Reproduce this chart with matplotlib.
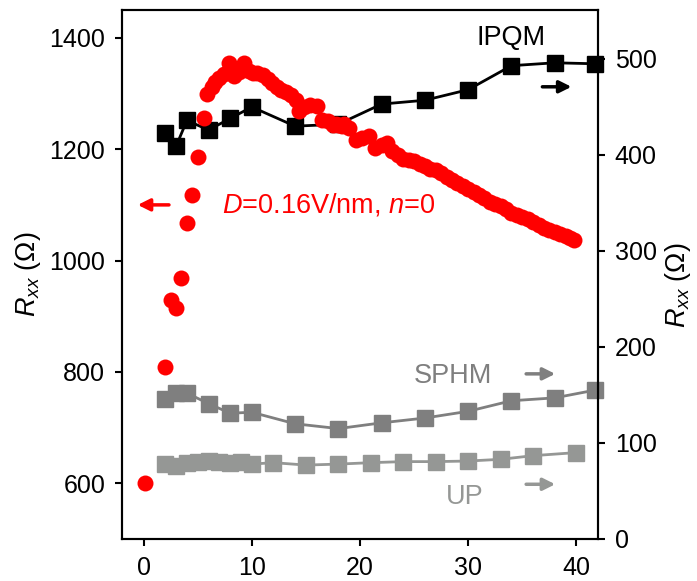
import matplotlib
matplotlib.use("Agg")
import matplotlib.pyplot as plt

plt.rcParams['font.family'] = ['Liberation Sans', 'DejaVu Sans']
plt.rcParams['mathtext.fontset'] = 'custom'
plt.rcParams['mathtext.rm'] = 'Liberation Sans'
plt.rcParams['mathtext.it'] = 'Liberation Sans:italic'

FS_TICK = 18
FS_TXT = 19.5

# red dots, left axis (Rxx at D=0.16V/nm, n=0)
red_x = [0.1, 2.0, 2.5, 3.0, 3.5, 4.0, 4.5, 5.0, 5.56, 5.9, 6.3, 6.6, 7.0, 7.4,
         7.9, 8.4, 8.8, 9.3, 9.7, 10.1, 10.5, 11.0, 11.5, 11.9, 12.3, 12.7, 13.2,
         13.6, 14.1, 14.4, 14.8, 15.4, 16.0, 16.5, 17.0, 17.5, 17.8, 18.0, 18.3,
         18.5, 19.0, 19.6, 20.2, 20.8, 21.4, 22.0, 22.5, 23.0, 23.5, 24.0, 24.5,
         25.0, 25.5, 26.0, 26.5, 27.0, 27.5, 28.0, 28.5, 29.0, 29.5, 30.0, 30.5,
         31.0, 31.5, 32.0, 32.5, 33.0, 33.5, 34.0, 34.5, 35.0, 35.5, 36.0, 36.5,
         37.0, 37.5, 38.0, 38.5, 39.0, 39.4, 39.8]
red_y = [600, 809, 930, 915, 969, 1068, 1117, 1186, 1256, 1300, 1312, 1320, 1328, 1335,
         1354, 1331, 1338, 1354, 1340, 1337, 1336, 1334, 1326, 1319, 1312, 1307, 1302,
         1298, 1289, 1268, 1275, 1280, 1277, 1253, 1250, 1244, 1246, 1244, 1242,
         1245, 1238, 1217, 1220, 1223, 1202, 1208, 1211, 1196, 1189, 1183, 1181,
         1178, 1174, 1169, 1165, 1162, 1157, 1150, 1145, 1139, 1134, 1128, 1124,
         1118, 1112, 1106, 1101, 1098, 1092, 1086, 1082, 1079, 1074, 1070, 1064,
         1059, 1055, 1052, 1048, 1044, 1040, 1037]

# squares, right axis
ipqm_x = [2, 3, 4, 6, 8, 10, 14, 18, 22, 26, 30, 34, 38, 41.7]
ipqm_y = [423, 409, 436, 426, 438, 450, 430, 432, 453, 457, 468, 493, 496, 495]

sphm_x = [2, 3, 4, 6, 8, 10, 14, 18, 22, 26, 30, 34, 38, 41.7]
sphm_y = [146, 152, 152, 141, 131, 132, 120, 115, 121, 126, 133, 144, 147, 155]

up_x = [2, 3, 4, 5, 6, 7, 8, 9, 10, 12, 15, 18, 21, 24, 27, 30, 33, 36, 40]
up_y = [78, 76, 79.5, 80.6, 81.2, 80.6, 79.5, 80.6, 78, 79.5, 77, 78, 79.5, 80.6,
        80.6, 81.2, 83, 86.8, 90]

c_sphm = '#7f7f7f'
c_up = '#959795'

fig = plt.figure(figsize=(6.97, 5.81), dpi=100)
ax = fig.add_axes([0.175, 0.0723, 0.683, 0.9105])
ax2 = ax.twinx()

ax.plot(red_x, red_y, 'o', color='#ff0000', ms=11.5, mec='none', zorder=5, clip_on=False)
ax.set_zorder(ax2.get_zorder() + 1)
ax.patch.set_visible(False)

ax2.plot(ipqm_x, ipqm_y, '-s', color='black', lw=2, ms=12, clip_on=False)
ax2.plot(sphm_x, sphm_y, '-s', color=c_sphm, lw=2, ms=12, clip_on=False)
ax2.plot(up_x, up_y, '-s', color=c_up, lw=2, ms=12, clip_on=False)

ax.set_xlim(-2, 42)
ax.set_ylim(500, 1450)
ax2.set_ylim(0, 551)
ax.set_xticks([0, 10, 20, 30, 40])
ax.set_yticks([600, 800, 1000, 1200, 1400])
ax2.set_yticks([0, 100, 200, 300, 400, 500])

for a in (ax, ax2):
    a.tick_params(labelsize=FS_TICK, width=1.5, length=5, pad=7, direction='out')
    for s in a.spines.values():
        s.set_linewidth(1.5)

ax.set_ylabel(r'$R_{xx}$ ($\Omega$)', fontsize=FS_TXT)
ax.yaxis.set_label_coords(-0.166, 0.5)
ax2.set_ylabel(r'$R_{xx}$ ($\Omega$)', fontsize=FS_TXT, rotation=90)
ax2.yaxis.set_label_coords(1.136, 0.48)

ax.text(7.2, 1100, r'$D$=0.16V/nm, $n$=0', color='#ff0000', fontsize=FS_TXT, va='center')
ax.annotate('', xy=(-0.8, 1100), xytext=(2.6, 1100),
            arrowprops=dict(arrowstyle='-|>', color='#ff0000', lw=2.5, mutation_scale=18))

ax2.text(30.75, 522, 'IPQM', color='black', fontsize=FS_TXT, va='center')
ax2.annotate('', xy=(39.8, 471), xytext=(36.6, 471),
             arrowprops=dict(arrowstyle='-|>', color='black', lw=2.5, mutation_scale=18))

ax2.text(25.0, 170, 'SPHM', color=c_sphm, fontsize=FS_TXT, va='center')
ax2.annotate('', xy=(38.3, 172), xytext=(35.1, 172),
             arrowprops=dict(arrowstyle='-|>', color=c_sphm, lw=2.5, mutation_scale=18))

ax2.text(27.9, 44, 'UP', color=c_up, fontsize=FS_TXT, va='center')
ax2.annotate('', xy=(38.3, 57), xytext=(35.1, 57),
             arrowprops=dict(arrowstyle='-|>', color=c_up, lw=2.5, mutation_scale=18))

fig.savefig('out.png', dpi=100)
